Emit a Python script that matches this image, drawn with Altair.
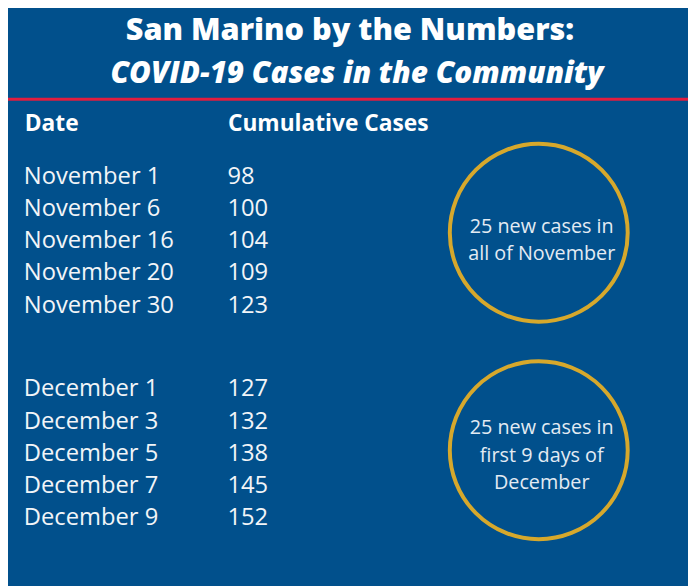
import altair as alt
import pandas as pd

# ---- data ----
nov_dates = ["November 1", "November 6", "November 16", "November 20", "November 30"]
nov_cases = [98, 100, 104, 109, 123]
dec_dates = ["December 1", "December 3", "December 5", "December 7", "December 9"]
dec_cases = [127, 132, 138, 145, 152]
title_line1 = "San Marino by the Numbers:"
title_line2 = "COVID-19 Cases in the Community"
headers = ["Date", "Cumulative Cases"]
notes = ["25 new cases in\nall of November", "25 new cases in\nfirst 9 days of\nDecember"]

BG = "#01508c"
GOLD = "#d6a82c"
RED = "#e11d3f"
FONT = "Open Sans"
W, H = 688, 578

rows = []
for g, (dates, cases) in enumerate([(nov_dates, nov_cases), (dec_dates, dec_cases)]):
    for i, (d, c) in enumerate(zip(dates, cases)):
        rows.append({"date": d, "cases": str(c), "group": g, "idx": i})
df = pd.DataFrame(rows)

yscale = alt.Scale(domain=[0, 10.6], range=[174.5, 520])

base = alt.Chart(df).transform_calculate(k="datum.idx + datum.group * 6.6")

date_col = base.mark_text(align="left", baseline="alphabetic", font=FONT, fontSize=24,
                          color="#f2f5f8").encode(
    x=alt.value(16), y=alt.Y("k:Q", scale=yscale, axis=None), text="date:N")
case_col = base.mark_text(align="left", baseline="alphabetic", font=FONT, fontSize=24,
                          color="#f2f5f8").encode(
    x=alt.value(222), y=alt.Y("k:Q", scale=yscale, axis=None), text="cases:N")

hdr_df = pd.DataFrame({"h": headers, "col": [0, 1]})
hdr = alt.Chart(hdr_df).mark_text(align="left", baseline="alphabetic", font=FONT,
                                  fontSize=23, fontWeight="bold", color="white").encode(
    x=alt.X("col:Q", scale=alt.Scale(domain=[0, 1], range=[17, 222.5]), axis=None),
    y=alt.value(121), text="h:N")

t1 = alt.Chart(pd.DataFrame({"t": [title_line1]})).mark_text(
    align="center", baseline="alphabetic", font=FONT, fontSize=31, fontWeight=800,
    color="white").encode(x=alt.value(346), y=alt.value(29), text="t:N")
t2 = alt.Chart(pd.DataFrame({"t": [title_line2]})).mark_text(
    align="center", baseline="alphabetic", font=FONT, fontSize=30, fontWeight=800,
    fontStyle="italic", color="white").encode(x=alt.value(353), y=alt.value(72), text="t:N")

red = alt.Chart(pd.DataFrame({"a": [0]})).mark_rule(color=RED, strokeWidth=3).encode(
    x=alt.value(0), x2=alt.value(W), y=alt.value(89))

note_df = pd.DataFrame({"note": notes, "n": [0, 1]})
circ1 = alt.Chart(note_df.iloc[[0]]).mark_point(shape="circle", filled=False, size=180 * 180,
                                               stroke=GOLD, strokeWidth=4, opacity=1).encode(
    x=alt.value(537), y=alt.value(224))
circ2 = alt.Chart(note_df.iloc[[1]]).mark_point(shape="circle", filled=False, size=180 * 180,
                                               stroke=GOLD, strokeWidth=4, opacity=1).encode(
    x=alt.value(537), y=alt.value(444))
nt1 = alt.Chart(note_df.iloc[[0]]).mark_text(align="center", baseline="alphabetic", lineBreak="\n",
                                            lineHeight=27.5, font=FONT, fontSize=20,
                                            color="#e3ebf3").encode(
    x=alt.value(540), y=alt.value(224), text="note:N")
nt2 = alt.Chart(note_df.iloc[[1]]).mark_text(align="center", baseline="alphabetic", lineBreak="\n",
                                            lineHeight=27.5, font=FONT, fontSize=20,
                                            color="#e3ebf3").encode(
    x=alt.value(540), y=alt.value(428), text="note:N")

chart = alt.layer(t1, t2, red, hdr, date_col, case_col, circ1, circ2, nt1, nt2).properties(
    width=W, height=H, background=BG, padding=0,
    autosize=alt.AutoSizeParams(type="none"),
).configure_view(stroke=None)

chart.save("out.html", embed_options={"renderer": "svg", "actions": False})
